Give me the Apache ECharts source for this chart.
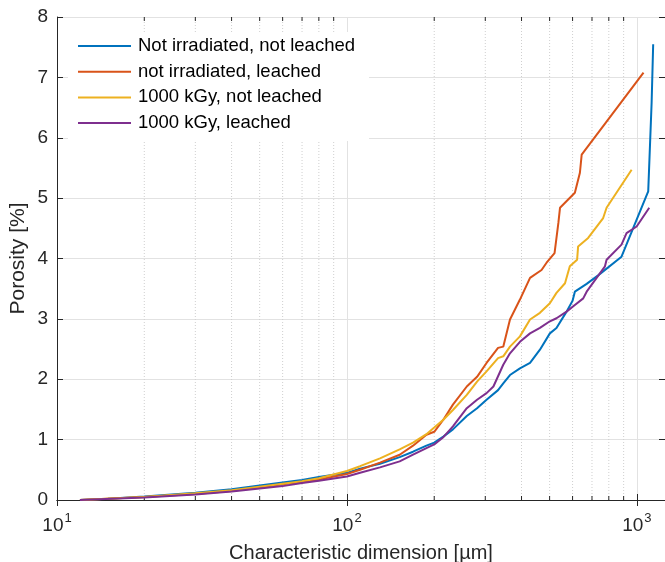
<!DOCTYPE html>
<html>
<head>
<meta charset="utf-8">
<script src="https://cdn.jsdelivr.net/npm/echarts@6/dist/echarts.min.js"></script>
<style>
  html, body { margin: 0; padding: 0; background: #fff; }
  #chart { width: 665px; height: 562px; }
</style>
</head>
<body>
<div id="chart"></div>
<script>
// Series names
const seriesNames = [
  'Not irradiated, not leached',
  'not irradiated, leached',
  '1000 kGy, not leached',
  '1000 kGy, leached'
];

// Characteristic dimension [µm] and porosity [%] for each sample
const notIrrNotLeachedX = [12, 15, 20, 30, 40, 50, 60, 70, 80, 100, 111, 130, 152, 169, 188, 200, 215, 232, 259, 281, 303, 332, 346, 365, 395, 428, 463, 501, 528, 572, 600, 611, 671, 735, 885, 1094, 1124, 1138];
const notIrrNotLeachedY = [0, 0.02, 0.06, 0.12, 0.18, 0.24, 0.29, 0.33, 0.38, 0.45, 0.52, 0.60, 0.71, 0.80, 0.90, 0.95, 1.05, 1.17, 1.39, 1.52, 1.66, 1.82, 1.93, 2.07, 2.18, 2.27, 2.49, 2.76, 2.85, 3.12, 3.30, 3.45, 3.58, 3.72, 4.03, 5.11, 6.58, 7.55];

const notIrrLeachedX = [12, 20, 30, 40, 50, 60, 70, 80, 100, 111, 130, 152, 169, 188, 200, 215, 232, 259, 281, 303, 332, 346, 365, 395, 428, 469, 488, 520, 536, 543, 611, 636, 645, 1054];
const notIrrLeachedY = [0, 0.05, 0.10, 0.15, 0.21, 0.26, 0.30, 0.34, 0.43, 0.50, 0.62, 0.75, 0.90, 1.08, 1.13, 1.33, 1.58, 1.88, 2.04, 2.27, 2.52, 2.54, 2.99, 3.32, 3.68, 3.81, 3.93, 4.09, 4.59, 4.84, 5.09, 5.42, 5.72, 7.08];

const kGyNotLeachedX = [12, 20, 30, 40, 50, 60, 70, 80, 100, 111, 130, 152, 169, 188, 200, 215, 232, 259, 281, 303, 332, 346, 365, 395, 428, 463, 501, 528, 565, 587, 622, 627, 679, 765, 786, 959];
const kGyNotLeachedY = [0, 0.05, 0.11, 0.16, 0.22, 0.27, 0.31, 0.36, 0.48, 0.56, 0.69, 0.84, 0.95, 1.09, 1.20, 1.33, 1.49, 1.74, 1.96, 2.13, 2.35, 2.38, 2.54, 2.71, 2.99, 3.10, 3.26, 3.43, 3.59, 3.87, 3.98, 4.20, 4.34, 4.67, 4.84, 5.47];

const kGyLeachedX = [12, 20, 30, 40, 50, 60, 70, 80, 100, 111, 130, 152, 169, 188, 200, 215, 232, 259, 281, 303, 320, 346, 365, 395, 428, 463, 501, 528, 572, 611, 653, 671, 776, 786, 885, 921, 998, 1103];
const kGyLeachedY = [0, 0.04, 0.09, 0.14, 0.19, 0.23, 0.28, 0.32, 0.39, 0.45, 0.54, 0.64, 0.75, 0.86, 0.92, 1.04, 1.22, 1.52, 1.66, 1.77, 1.88, 2.24, 2.43, 2.62, 2.76, 2.85, 2.96, 3.01, 3.12, 3.23, 3.34, 3.45, 3.87, 3.98, 4.23, 4.42, 4.53, 4.84];

// Axis ranges and minor log-grid positions
const xMin = 10, xMax = 1250;
const yMin = 0, yMax = 8, yStep = 1;
const minorX = [20, 30, 40, 50, 60, 70, 80, 90, 200, 300, 400, 500, 600, 700, 800, 900];

const colors = ['#0072BD', '#D95319', '#EDB120', '#7E2F8E'];
const axisColor = '#262626';
const gridColor = '#e2e2e2';
const fontFamily = '"Liberation Sans", Arial, sans-serif';

const pairs = (xs, ys) => xs.map((x, i) => [x, ys[i]]);
const lineData = [
  pairs(notIrrNotLeachedX, notIrrNotLeachedY),
  pairs(notIrrLeachedX, notIrrLeachedY),
  pairs(kGyNotLeachedX, kGyNotLeachedY),
  pairs(kGyLeachedX, kGyLeachedY)
];

const chart = echarts.init(document.getElementById('chart'), null, { renderer: 'canvas' });

const pow10Label = v => {
  const e = Math.round(Math.log10(v));
  if (Math.abs(v - Math.pow(10, e)) > 1e-6 * v) return '';
  return '{b|10}{s|' + e + '}';
};

const option = {
  backgroundColor: '#fff',
  animation: false,
  textStyle: { fontFamily: fontFamily },
  grid: { left: 57, right: 0, top: 17, bottom: 62, containLabel: false, outerBoundsMode: 'none' },
  legend: {
    orient: 'vertical',
    left: 68,
    top: 32,
    padding: [4, 14, 8, 10],
    backgroundColor: '#fff',
    itemWidth: 53,
    itemHeight: 2,
    itemGap: 5.7,
    icon: 'rect',
    data: seriesNames,
    textStyle: { fontSize: 18.5, color: '#000', fontFamily: fontFamily, lineHeight: 20, padding: [0, 0, 0, 2] }
  },
  xAxis: [
    {
      type: 'log', logBase: 10, min: xMin, max: xMax, position: 'bottom',
      name: 'Characteristic dimension [\u00b5m]', nameLocation: 'middle', nameGap: 43,
      nameTextStyle: { fontSize: 20, color: axisColor, fontFamily: fontFamily },
      axisLine: { show: true, lineStyle: { color: axisColor, width: 1 } },
      axisTick: { show: true, inside: true, length: 6, lineStyle: { color: axisColor } },
      axisLabel: {
        margin: 12, color: axisColor, formatter: pow10Label,
        rich: {
          b: { fontSize: 19, fontFamily: fontFamily, color: axisColor, verticalAlign: 'bottom' },
          s: { fontSize: 13, fontFamily: fontFamily, color: axisColor, verticalAlign: 'bottom', padding: [0, 0, 10, 1] }
        }
      },
      splitLine: { show: true, lineStyle: { color: gridColor, width: 1 } }
    },
    {
      type: 'log', logBase: 10, min: xMin, max: xMax, position: 'top',
      axisLine: { show: true, lineStyle: { color: axisColor, width: 1 } },
      axisTick: { show: true, inside: true, length: 6, lineStyle: { color: axisColor } },
      axisLabel: { show: false },
      splitLine: { show: false }
    }
  ],
  yAxis: [
    {
      type: 'value', min: yMin, max: yMax, interval: yStep, position: 'left',
      name: 'Porosity [%]', nameLocation: 'middle', nameGap: 28, nameRotate: 90,
      nameMoveOverlap: false,
      nameTextStyle: { fontSize: 21, color: axisColor, fontFamily: fontFamily },
      axisLine: { show: true, lineStyle: { color: axisColor, width: 1 } },
      axisTick: { show: true, inside: true, length: 6, lineStyle: { color: axisColor } },
      axisLabel: { fontSize: 19, color: axisColor, margin: 9, fontFamily: fontFamily },
      splitLine: { show: true, lineStyle: { color: gridColor, width: 1 } }
    },
    {
      type: 'value', min: yMin, max: yMax, interval: yStep, position: 'right',
      axisLine: { show: true, lineStyle: { color: axisColor, width: 1 } },
      axisTick: { show: true, inside: true, length: 6, lineStyle: { color: axisColor } },
      axisLabel: { show: false },
      splitLine: { show: false }
    }
  ],
  series: [
    {
      // dotted minor grid lines and minor ticks of the log axis
      type: 'custom',
      silent: true,
      z: 1,
      xAxisIndex: 0,
      yAxisIndex: 0,
      data: minorX.map(x => [x, yMin]),
      renderItem: (params, api) => {
        const x = api.value(0);
        const b = api.coord([x, yMin]);
        const t = api.coord([x, yMax]);
        return {
          type: 'group',
          children: [
            { type: 'line', shape: { x1: b[0], y1: b[1], x2: t[0], y2: t[1] },
              style: { stroke: '#cfcfcf', lineWidth: 1, lineDash: [1, 2] } },
            { type: 'line', shape: { x1: b[0], y1: b[1], x2: b[0], y2: b[1] - 4 },
              style: { stroke: axisColor, lineWidth: 1 } },
            { type: 'line', shape: { x1: t[0], y1: t[1], x2: t[0], y2: t[1] + 4 },
              style: { stroke: axisColor, lineWidth: 1 } }
          ]
        };
      }
    }
  ].concat(seriesNames.map((name, i) => ({
    name: name,
    type: 'line',
    xAxisIndex: 0,
    yAxisIndex: 0,
    z: 3,
    data: lineData[i],
    showSymbol: false,
    symbol: 'none',
    color: colors[i],
    lineStyle: { color: colors[i], width: 2 },
    itemStyle: { color: colors[i] }
  })))
};

chart.setOption(option);
</script>
</body>
</html>
